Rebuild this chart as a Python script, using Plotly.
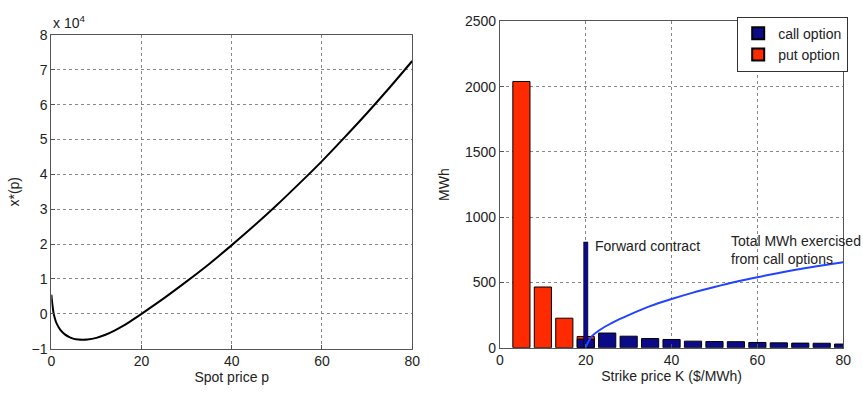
import plotly.graph_objects as go

# Left panel: optimal position x*(p) (units of 1e4) vs spot price p
spot_price = [0, 0.25, 0.5, 1, 1.5, 2, 3, 4, 5, 6, 7, 8, 10, 12, 14, 16, 18, 20,
              25, 30, 35, 40, 45, 50, 55, 60, 65, 70, 75, 80]
x_star = [0.55, 0.25, 0.02, -0.22, -0.36, -0.46, -0.59, -0.67, -0.72, -0.74, -0.745, -0.74,
          -0.69, -0.60, -0.48, -0.34, -0.175, 0.0,
          0.45, 0.93, 1.43, 1.97, 2.53, 3.12, 3.74, 4.38, 5.06, 5.76, 6.49, 7.25]

# Right panel: bars by strike price
put_strikes = [5, 10, 15, 20]
put_mwh = [2040, 465, 226, 86]
call_strikes = [20, 25, 30, 35, 40, 45, 50, 55, 60, 65, 70, 75, 80]
call_mwh = [65, 112, 88, 70, 63, 50, 47, 46, 40, 37, 35, 34, 28]
forward_strike = [20]
forward_mwh = [810]
total_strike = [20, 20.5, 21.5, 23, 25, 27.5, 30, 35, 40, 45, 50, 55, 60, 65, 70, 75, 80]
total_mwh = [0, 40, 90, 130, 170, 213, 250, 318, 373, 422, 465, 505, 540, 572, 603, 630, 655]

FONT = "Arial, Liberation Sans, sans-serif"
RED = "#ff2a00"
NAVY = "#0b0b8a"

fig = go.Figure()

fig.add_trace(go.Scatter(x=spot_price, y=x_star, mode="lines",
                         line=dict(color="black", width=2, shape="spline", smoothing=0.8),
                         xaxis="x", yaxis="y", showlegend=False))

fig.add_trace(go.Bar(x=put_strikes, y=put_mwh, width=4, name="put option",
                     marker=dict(color=RED, line=dict(color="black", width=1)),
                     xaxis="x2", yaxis="y2", legendrank=2))
fig.add_trace(go.Bar(x=call_strikes, y=call_mwh, width=4, name="call option",
                     marker=dict(color=NAVY, line=dict(color="black", width=1)),
                     xaxis="x2", yaxis="y2", legendrank=1))
fig.add_trace(go.Bar(x=forward_strike, y=forward_mwh, width=1, name="Forward contract",
                     marker=dict(color=NAVY, line=dict(color="black", width=0.5)),
                     xaxis="x2", yaxis="y2", showlegend=False))
fig.add_trace(go.Scatter(x=total_strike, y=total_mwh, mode="lines",
                         line=dict(color="#2244ff", width=2, shape="spline", smoothing=0.8),
                         xaxis="x2", yaxis="y2", showlegend=False))

axis_common = dict(showline=True, linecolor="#555", linewidth=1, mirror=True,
                   showgrid=True, gridcolor="#888", griddash="dot", gridwidth=1,
                   ticks="inside", ticklen=4, tickcolor="#555", zeroline=False,
                   tickfont=dict(family=FONT, size=14, color="#222"))

fig.update_layout(
    width=863, height=396, margin=dict(l=0, r=0, t=0, b=0),
    paper_bgcolor="white", plot_bgcolor="white",
    barmode="overlay",
    font=dict(family=FONT, color="#222"),
    xaxis=dict(domain=[0.0556, 0.4797], range=[0, 80], tickvals=[0, 20, 40, 60, 80],
               title=dict(text="Spot price p", font=dict(family=FONT, size=14), standoff=2), **axis_common),
    yaxis=dict(domain=[0.1035, 0.9293], range=[-1, 8], tickvals=list(range(-1, 9)),
               title=dict(text="x*(p)", font=dict(family=FONT, size=14), standoff=8), **axis_common),
    xaxis2=dict(domain=[0.5828, 0.9861], range=[0, 80], tickvals=[0, 20, 40, 60, 80], anchor="y2",
                title=dict(text="Strike price K ($/MWh)", font=dict(family=FONT, size=14), standoff=2), **axis_common),
    yaxis2=dict(domain=[0.1061, 0.9646], range=[0, 2500], tickvals=[0, 500, 1000, 1500, 2000, 2500], anchor="x2",
                title=dict(text="MWh", font=dict(family=FONT, size=14), standoff=12), **axis_common),
    legend=dict(x=0.992, y=0.977, xanchor="right", yanchor="top", bgcolor="white",
                bordercolor="#333", borderwidth=1, font=dict(family=FONT, size=14),
                tracegroupgap=0, itemsizing="constant"),
    annotations=[
        dict(text="x 10<sup>4</sup>", xref="paper", yref="paper", x=0.0556, y=0.935,
             xanchor="left", yanchor="bottom", showarrow=False, font=dict(family=FONT, size=14)),
        dict(text="Forward contract", xref="x2", yref="y2", x=21.8, y=780,
             xanchor="left", yanchor="middle", showarrow=False, font=dict(family=FONT, size=14)),
        dict(text="Total MWh exercised<br>from call options", xref="x2", yref="y2", x=53.3, y=750,
             xanchor="left", yanchor="middle", showarrow=False, align="left",
             font=dict(family=FONT, size=14)),
    ],
)

fig.write_html("out.html")
